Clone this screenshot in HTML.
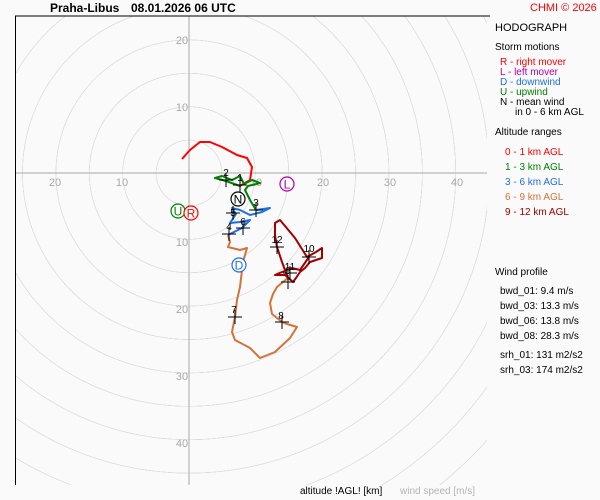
<!DOCTYPE html>
<html><head><meta charset="utf-8"><style>
html,body{margin:0;padding:0;width:600px;height:500px;overflow:hidden;background:#fafafa;position:relative;}
#rings{position:absolute;left:15px;top:16px;width:472px;height:469px;background:repeating-radial-gradient(circle at 174px 157px,rgba(0,0,0,0) 0px,rgba(0,0,0,0) 32.4px,#dcdcdc 32.6px,#dcdcdc 33.2px,rgba(0,0,0,0) 33.4px);}
svg{position:absolute;left:0;top:0;display:block;font-family:"Liberation Sans",sans-serif;}
</style></head><body>
<div id="rings"></div>
<svg width="600" height="500" viewBox="0 0 600 500">
<line x1="189" y1="16" x2="189" y2="485" stroke="#a8a8a8"/>
<line x1="15" y1="173" x2="487" y2="173" stroke="#a8a8a8"/>
<line x1="15" y1="16" x2="490" y2="16" stroke="#000"/>
<line x1="15.5" y1="16" x2="15.5" y2="485" stroke="#000"/>
<g fill="#a8a8a8" font-size="11" text-anchor="middle">
<text x="55" y="186">20</text><text x="122" y="186">10</text>
<text x="256" y="186">10</text><text x="323" y="186">20</text><text x="390" y="186">30</text><text x="457" y="186">40</text>
<text x="182" y="44">20</text><text x="182" y="111">10</text>
<text x="182" y="246">10</text><text x="182" y="313">20</text><text x="182" y="380">30</text><text x="182" y="447">40</text>
</g>
<g fill="none" stroke-width="2" stroke-linejoin="round">
<polyline stroke="#ff0000" points="182,159 190,150 200,142 210,142 222,147 237,155 247,158 252,167 250,180 240,186"/>
<polyline stroke="#008000" points="240,186 226,181 215,178 222,176 232,180 240,176 244,184 252,180 260,183 248,186 245,190 250,200 256,210"/>
<polyline stroke="#1e6ee6" points="256,210 270,208 262,212 250,215 240,210 232,208 236,214 230,223 240,222 250,220 242,228 228,235"/>
<polyline stroke="#d2733c" points="228,235 230,242 228,247 240,250 247,248 243,262 240,287 237,300 235,317 232,332 235,340 250,348 260,358 275,352 290,338 297,327 287,324 282,322 272,314 270,303 273,294 277,287 283,282 288,278"/>
<polyline stroke="#a00000" points="288,278 282,262 277,247 275,235 275,223 280,220 295,238 307,257 316,252 322,248 322,258 310,262 305,268 300,272 296,278 293,282 285,275 275,275 282,272 292,268 300,270 309,257"/>
</g>
<g stroke="#000" stroke-width="1">
<path d="M233 185h14M240 178v14 M219 180h14M226 173v14 M249 210h14M256 203v14 M226 213h14M233 206v14 M236 228h14M243 221v14 M222 234h14M229 227v14 M228 317h14M235 310v14 M275 322h14M282 315v14 M281 282h14M288 275v14 M302 257h14M309 250v14 M283 273h14M290 266v14 M270 247h14M277 240v14"/>
</g>
<g font-size="10" fill="#000" text-anchor="middle">
<text x="240" y="181">1</text><text x="226" y="176">2</text><text x="256" y="206">3</text><text x="229" y="230">4</text><text x="233" y="216">5</text><text x="243" y="225">6</text>
<text x="234" y="313">7</text><text x="281" y="319">8</text><text x="288" y="274">9</text><text x="309" y="252">10</text><text x="290" y="270">11</text><text x="277" y="243">12</text>
</g>
<g font-size="12" text-anchor="middle" stroke-width="1.2">
<circle cx="238" cy="199" r="7" fill="#fff" stroke="#000"/><text x="238" y="203.5" fill="#000">N</text>
<circle cx="178" cy="211" r="7" fill="#fff" stroke="#008000"/><text x="178" y="215.5" fill="#008000">U</text>
<circle cx="191" cy="213" r="7" fill="#fff" stroke="#ff0000"/><text x="191" y="217.5" fill="#ff0000">R</text>
<circle cx="287" cy="184" r="7" fill="#fff" stroke="#b000b0"/><text x="287" y="188.5" fill="#b000b0">L</text>
<circle cx="239" cy="265" r="7" fill="#fff" stroke="#1e6ee6"/><text x="239" y="269.5" fill="#1e6ee6">D</text>
</g>
<text x="50" y="12" font-size="12" font-weight="bold" fill="#000">Praha-Libus</text>
<text x="131" y="12" font-size="12" font-weight="bold" fill="#000">08.01.2026 06 UTC</text>
<text x="530" y="11" font-size="11" fill="#ff0000">CHMI © 2026</text>
<g font-size="10" fill="#000">
<text x="495" y="31" font-size="11">HODOGRAPH</text>
<text x="495" y="50">Storm motions</text>
<text x="500" y="65" fill="#ff0000">R - right mover</text>
<text x="500" y="75" fill="#b000b0">L - left mover</text>
<text x="500" y="85" fill="#1e6ee6">D - downwind</text>
<text x="500" y="95" fill="#008000">U - upwind</text>
<text x="500" y="105">N - mean wind</text>
<text x="515" y="115">in 0 - 6 km AGL</text>
<text x="495" y="135">Altitude ranges</text>
<text x="505" y="155" fill="#ff0000">0 - 1 km AGL</text>
<text x="505" y="170" fill="#008000">1 - 3 km AGL</text>
<text x="505" y="185" fill="#1e6ee6">3 - 6 km AGL</text>
<text x="505" y="200" fill="#d2733c">6 - 9 km AGL</text>
<text x="505" y="215" fill="#a00000">9 - 12 km AGL</text>
<text x="495" y="275">Wind profile</text>
<text x="500" y="294">bwd_01: 9.4 m/s</text>
<text x="500" y="309">bwd_03: 13.3 m/s</text>
<text x="500" y="324">bwd_06: 13.8 m/s</text>
<text x="500" y="339">bwd_08: 28.3 m/s</text>
<text x="500" y="358">srh_01: 131 m2/s2</text>
<text x="500" y="373">srh_03: 174 m2/s2</text>
<text x="300" y="494">altitude !AGL! [km]</text>
<text x="400" y="494" fill="#b4b4b4">wind speed [m/s]</text>
</g>
</svg>
</body></html>
